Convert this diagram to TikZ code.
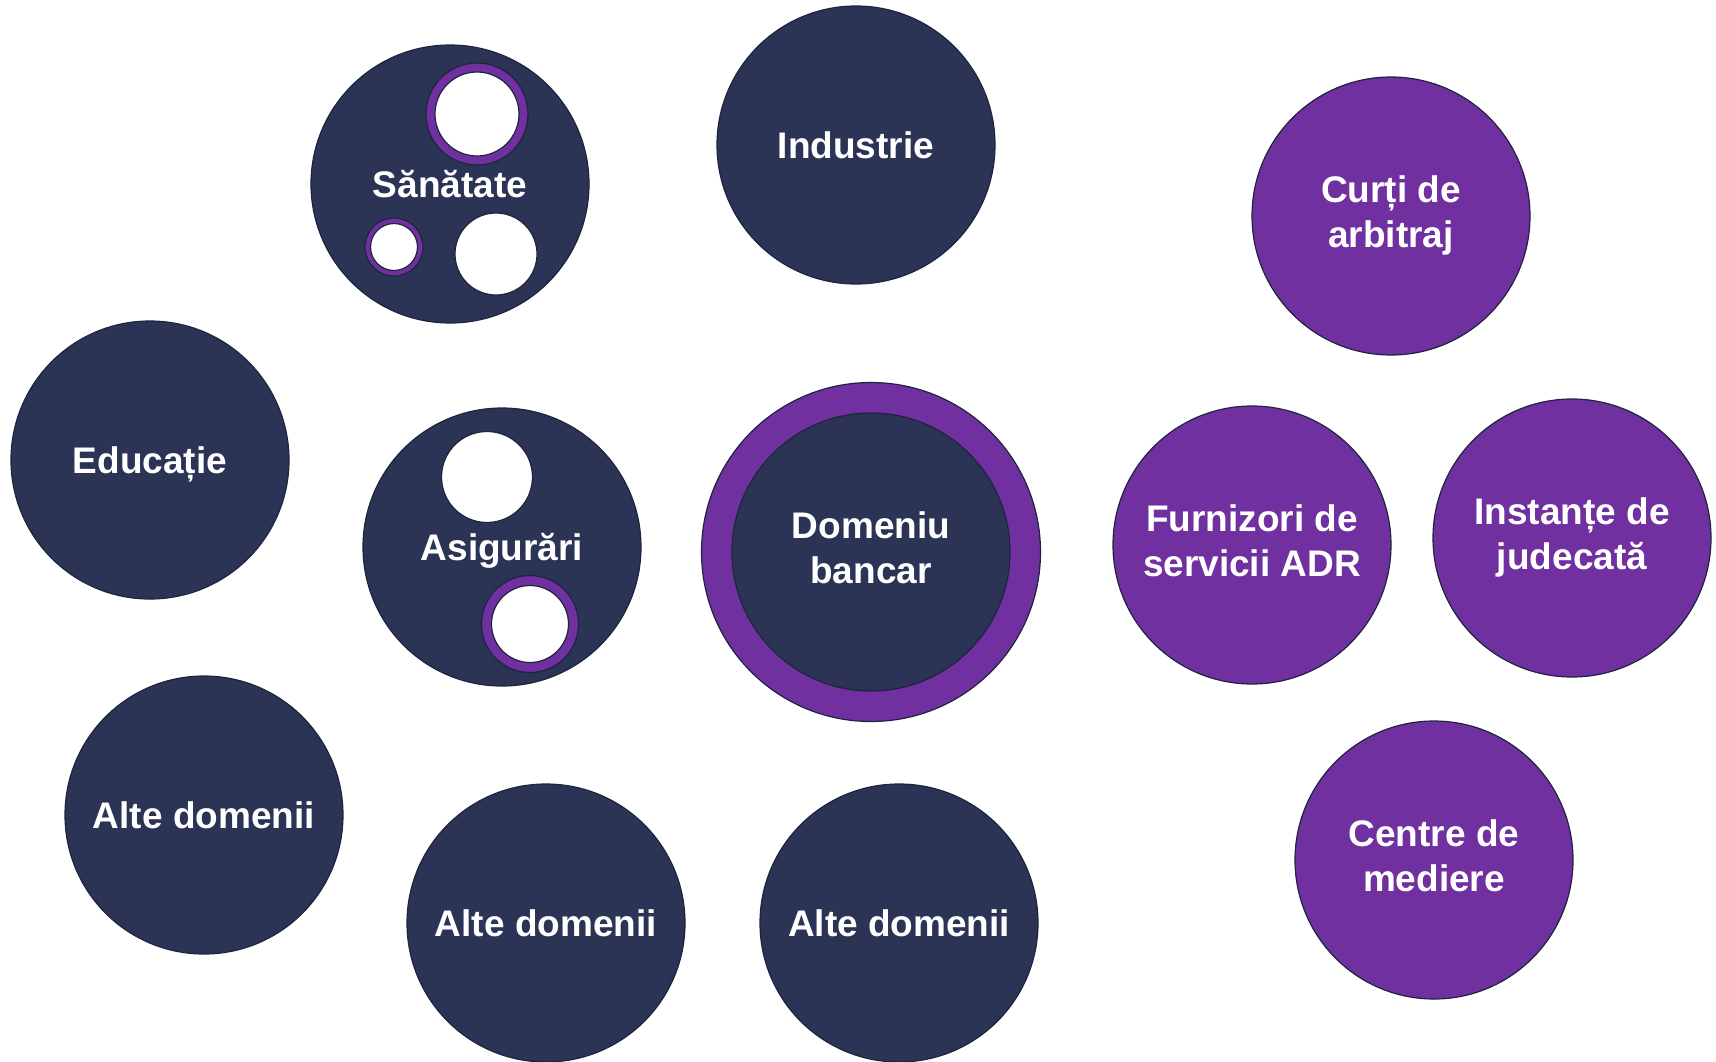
\documentclass[tikz,border=0pt]{standalone}
\usepackage{fontspec}
\setmainfont{Liberation Sans}
\usepackage{tikz}
\definecolor{navy}{RGB}{43,52,85}
\definecolor{mov}{RGB}{112,48,160}
\definecolor{rim}{RGB}{30,36,62}

\begin{document}
\begin{tikzpicture}[x=1pt, y=-1pt, every node/.style={circle, inner sep=0pt, line width=1.2pt, draw=rim},
	sector/.style={fill=navy, minimum size=278pt, text=white, align=center, font=\fontsize{37}{45}\selectfont\bfseries},
	forum/.style={sector, fill=mov},
	oneline/.style={text depth=0pt},
	twolines/.style={text depth=8pt},
	hole/.style={fill=white},
	ring/.style={fill=mov}]
		\useasboundingbox (0,0) rectangle (1716,1061);

		% sectoare
		\node[sector, oneline]	(sanatate)	at (450, 184)	{Sănătate};
		\node[sector, oneline]	(industrie)	at (856, 145)	{Industrie};
		\node[sector, oneline]	(educatie)	at (150, 460)	{Educație};
		\node[sector, oneline]	(asigurari)	at (502, 547)	{Asigurări};
		\node[sector, oneline]	(alte1)		at (204, 815)	{Alte domenii};
		\node[sector, oneline]	(alte2)		at (546, 923)	{Alte domenii};
		\node[sector, oneline]	(alte3)		at (899, 923)	{Alte domenii};

		\node[ring, minimum size=339pt]	(bancarring)	at (871, 552) {};
		\node[sector, twolines]			(bancar)		at (bancarring) {Domeniu\\bancar};

		% goluri
		\node[ring, minimum size=102pt]	(s1) at (477, 114) {};
		\node[hole, minimum size=84pt]		 at (s1) {};
		\node[ring, minimum size=58pt]	(s2) at (394, 247) {};
		\node[hole, minimum size=47pt]		 at (s2) {};
		\node[hole, minimum size=82pt]	(s3) at (496, 254) {};

		\node[hole, minimum size=91pt]	(a1) at (487, 477) {};
		\node[ring, minimum size=97pt]	(a2) at (530, 624) {};
		\node[hole, minimum size=77pt]		 at (a2) {};

		% foruri
		\node[forum, twolines]	(curti)		at (1391, 216)	{Curți de\\arbitraj};
		\node[forum, twolines]	(furnizori)	at (1252, 545)	{Furnizori de\\servicii ADR};
		\node[forum, twolines]	(instante)	at (1572, 538)	{Instanțe de\\judecată};
		\node[forum, twolines]	(mediere)	at (1434, 860)	{Centre de\\mediere};
	\end{tikzpicture}
\end{document}
